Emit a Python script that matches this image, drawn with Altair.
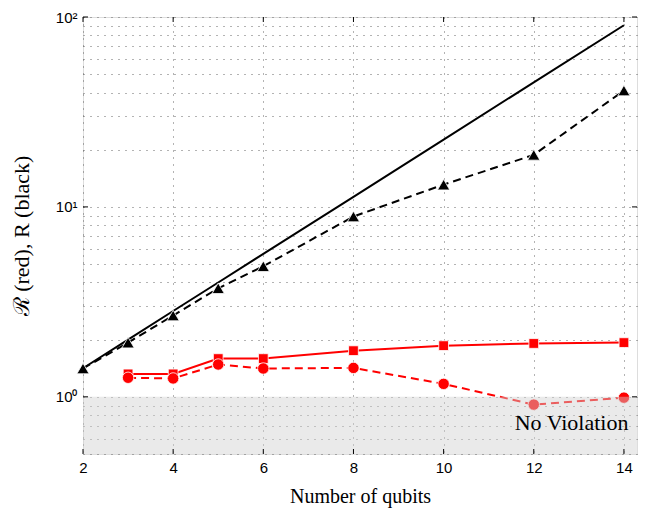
import altair as alt
import pandas as pd

# ---- data ----
n_bound = [2, 3, 4, 5, 6, 8, 10, 12, 14]
R_bound = [1.414, 2.0, 2.83, 4.0, 5.66, 11.3, 22.6, 45.3, 90.5]

n_R = [2, 3, 4, 5, 6, 8, 10, 12, 14]
R_meas = [1.41, 1.93, 2.68, 3.73, 4.87, 8.9, 13.1, 18.8, 41.0]

n_red = [3, 4, 5, 6, 8, 10, 12, 14]
Rc_square = [1.32, 1.32, 1.59, 1.59, 1.75, 1.86, 1.91, 1.93]
Rc_circle = [1.26, 1.25, 1.48, 1.41, 1.42, 1.17, 0.91, 0.99]

x_ticks = [2, 4, 6, 8, 10, 12, 14]
y_major = [1, 10, 100]
y_grid = [0.5, 0.6, 0.7, 0.8, 0.9, 1, 2, 3, 4, 5, 6, 7, 8, 9, 10,
          20, 30, 40, 50, 60, 70, 80, 90, 100]

W, H = 554, 437
X_DOM = [2, 14.29]
Y_DOM = [0.5, 100]
SERIF = "Liberation Serif"
SANS = "Liberation Sans"

xs = alt.Scale(domain=X_DOM, nice=False, zero=False)
ys = alt.Scale(type="log", domain=Y_DOM, nice=False)

label_expr = ("datum.value == 1 ? '10⁰' : datum.value == 10 ? '10¹' : "
              "datum.value == 100 ? '10²' : ''")

GRID = dict(grid=True, gridColor="#666", gridDash=[1, 6], gridWidth=1)

X_AX = alt.Axis(values=x_ticks, title="Number of qubits",
                titleFont=SERIF, titleFontSize=20, titleFontWeight="normal",
                titlePadding=11, labelFont=SANS, labelFontSize=15,
                labelColor="black", labelPadding=6, tickSize=0,
                domain=False, labelFlush=False, **GRID)
Y_AX = alt.Axis(values=y_grid, labelExpr=label_expr,
                title="ℛ (red), R (black)", titleFont=SERIF,
                titleFontSize=22, titleFontWeight="normal",
                titlePadding=22, labelFont=SANS, labelFontSize=15,
                labelColor="black", labelPadding=6, tickSize=0,
                domain=False, labelFlush=False, **GRID)

def X(field):
    return alt.X(field, type="quantitative", scale=xs, axis=X_AX)

def Y(field):
    return alt.Y(field, type="quantitative", scale=ys, axis=Y_AX)

df_bound = pd.DataFrame({"n": n_bound, "v": R_bound})
df_R = pd.DataFrame({"n": n_R, "v": R_meas})
df_sq = pd.DataFrame({"n": n_red, "v": Rc_square})
df_ci = pd.DataFrame({"n": n_red, "v": Rc_circle})

def line(df, color, dash=None):
    kw = dict(color=color, strokeWidth=2)
    if dash:
        kw["strokeDash"] = dash
    return alt.Chart(df).mark_line(**kw).encode(x=X("n"), y=Y("v"))

def points(df, color, shape, size):
    return alt.Chart(df).mark_point(shape=shape, filled=True, fill=color,
                                    stroke="white", strokeWidth=0.8,
                                    size=size, opacity=1).encode(x=X("n"), y=Y("v"))

bound_line = line(df_bound, "black")
R_line = line(df_R, "black", [8, 5])
R_pts = points(df_R, "black", "triangle-up", 150)
sq_line = line(df_sq, "#ff0000")
sq_pts = points(df_sq, "#ff0000", "square", 95)
ci_line = line(df_ci, "#ff0000", [8, 5])
ci_pts = points(df_ci, "#ff0000", "circle", 130)

shade = alt.Chart(pd.DataFrame({"v": [1.0], "v2": [0.5]})).mark_rect(
    color="#d0d0d0", opacity=0.45).encode(
    x=alt.value(0), x2=alt.value(W), y=Y("v"), y2="v2:Q")

label = alt.Chart(pd.DataFrame({"n": [14.1], "v": [0.73], "t": ["No Violation"]})).mark_text(
    align="right", baseline="middle", font=SERIF, fontSize=22, color="black").encode(
    x=X("n"), y=Y("v"), text="t:N")

df_xt = pd.DataFrame({"n": x_ticks})
df_yt = pd.DataFrame({"v": y_major})
tick_b = alt.Chart(df_xt).mark_rule(color="black", strokeWidth=1).encode(
    x=X("n"), y=alt.value(H), y2=alt.value(H - 5))
tick_t = alt.Chart(df_xt).mark_rule(color="black", strokeWidth=1).encode(
    x=X("n"), y=alt.value(0), y2=alt.value(5))
tick_l = alt.Chart(df_yt).mark_rule(color="black", strokeWidth=1).encode(
    y=Y("v"), x=alt.value(0), x2=alt.value(5))
tick_r = alt.Chart(df_yt).mark_rule(color="black", strokeWidth=1).encode(
    y=Y("v"), x=alt.value(W), x2=alt.value(W - 5))

chart = alt.layer(
    bound_line, R_line, R_pts, sq_line, sq_pts, ci_line, ci_pts,
    shade, label, tick_b, tick_t, tick_l, tick_r
).properties(
    width=W, height=H,
    autosize=alt.AutoSizeParams(type="none"),
    padding={"left": 75, "top": 9, "right": 4, "bottom": 58},
).configure_view(stroke="black", strokeWidth=1.5).configure(background="white")

chart.save("out.html", embed_options={"renderer": "svg", "actions": False})
